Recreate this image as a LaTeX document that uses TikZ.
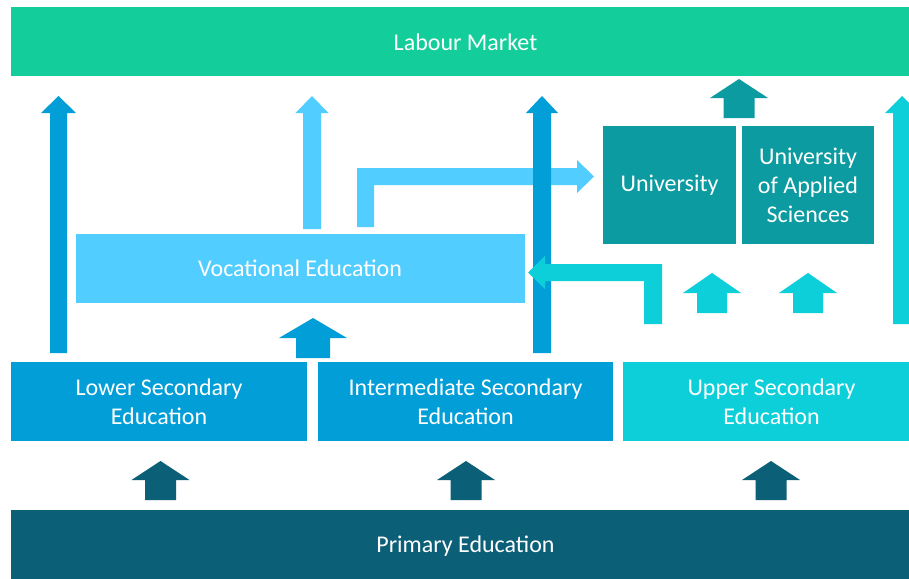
\documentclass[tikz,border=0pt]{standalone}
\usepackage{fontspec}
\setmainfont{Carlito}
\definecolor{labour}{HTML}{13CE9A}
\definecolor{primaryc}{HTML}{0B5F77}
\definecolor{secblue}{HTML}{029ED8}
\definecolor{uppercyan}{HTML}{0DCFD9}
\definecolor{vocblue}{HTML}{52CDFF}
\definecolor{uniteal}{HTML}{0B9BA0}
\newcommand{\upblock}[7]{\fill[#1] (#2-#6,#5) -- (#2-#6,#4) -- (#2-#7,#4) -- (#2,#3) -- (#2+#7,#4) -- (#2+#6,#4) -- (#2+#6,#5) -- cycle;}
\begin{document}
\begin{tikzpicture}[x=1pt,y=-1pt,
  box/.style={draw=none,inner sep=0pt,text=white,align=center,
    font=\fontsize{24}{29.3}\selectfont}]
\clip (0,0) rectangle (909,578);
\fill[white] (0,0) rectangle (909,578);
% boxes
\fill[labour] (11,7) rectangle (920,76);
\node[box] (labour) at (465.5,42) {Labour Market};
\fill[primaryc] (11,510) rectangle (920,590);
\node[box] (primary) at (465.5,546) {Primary Education};
\fill[secblue] (11,362) rectangle (307,441);
\node[box] (lower) at (159,402) {Lower Secondary\\Education};
\fill[secblue] (318,362) rectangle (613,441);
\node[box] (inter) at (465.5,402) {Intermediate Secondary\\Education};
\fill[uppercyan] (623,362) rectangle (920,441);
\node[box] (upper) at (771.5,402) {Upper Secondary\\Education};
\fill[vocblue] (76,234) rectangle (525,303);
\node[box] (voc) at (300,268.5) {Vocational Education};
\fill[uniteal] (603,126) rectangle (736,244);
\node[box] (uni) at (669.5,185.5) {University};
\fill[uniteal] (742,126) rectangle (874,244);
\node[box] (uas) at (808,185.5) {University\\of Applied\\Sciences};
% long arrows
\upblock{secblue}{58.5}{96}{113}{353}{8.5}{17.5}
\upblock{vocblue}{312}{96}{113}{229}{9}{16.5}
\fill[vocblue] (357,227) -- (357,168) -- (577,168) -- (577,160) -- (594,176.5) -- (577,193) -- (577,185) -- (374,185) -- (374,227) -- cycle;
\upblock{secblue}{542}{96}{113}{353}{9}{16}
\fill[uppercyan] (662,324) -- (662,264) -- (545,264) -- (545,256) -- (528,272.5) -- (545,289) -- (545,281) -- (644,281) -- (644,324) -- cycle;
\upblock{uppercyan}{902}{96}{113}{324}{9}{17}
\upblock{uniteal}{739}{79}{98}{118}{15.5}{29}
\upblock{secblue}{313}{318}{338}{358}{17}{34}
\upblock{uppercyan}{712}{273}{293}{313}{15}{29}
\upblock{uppercyan}{808}{273}{293}{313}{15}{29}
\upblock{primaryc}{160.5}{461}{480}{500}{15.5}{29}
\upblock{primaryc}{466}{461}{480}{500}{15.5}{29}
\upblock{primaryc}{771}{461}{480}{500}{15.5}{29}
\end{tikzpicture}
\end{document}
